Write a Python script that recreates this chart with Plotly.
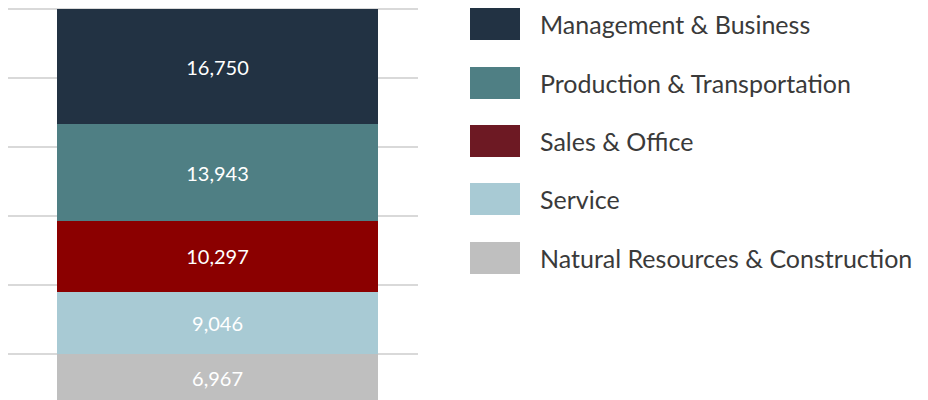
import plotly.graph_objects as go

categories = ["Natural Resources & Construction", "Service", "Sales & Office",
              "Production & Transportation", "Management & Business"]
values = [6967, 9046, 10297, 13943, 16750]
bar_colors = ["#bfbfbf", "#a8cad4", "#8b0000", "#4f7f84", "#223243"]
legend_colors = ["#bfbfbf", "#a8cad4", "#6d1923", "#4f7f84", "#223243"]
legend_order = ["Management & Business", "Production & Transportation",
                "Sales & Office", "Service", "Natural Resources & Construction"]

W, H = 928, 400
FONT = "Lato"
OFF = 8  # page body margin

fig = go.Figure()
for cat, val, col in zip(categories, values, bar_colors):
    fig.add_trace(go.Bar(
        x=["Total"], y=[val], name=cat, marker=dict(color=col, line=dict(width=0)),
        text=[f"{val:,}"], textposition="inside", insidetextanchor="middle",
        textfont=dict(family=FONT, size=20, color="#ffffff"),
        showlegend=False, hoverinfo="name+y",
    ))

# manual legend (large swatches)
shapes, annotations = [], []
row_top = [8, 67, 125, 183, 242]
for name, top in zip(legend_order, row_top):
    col = legend_colors[categories.index(name)]
    t = top - OFF
    shapes.append(dict(type="rect", xref="paper", yref="paper",
                       x0=(470 - OFF) / W, x1=(520 - OFF) / W,
                       y0=1 - (t + 32) / H, y1=1 - t / H,
                       fillcolor=col, line=dict(width=0)))
    annotations.append(dict(xref="paper", yref="paper", x=(538 - OFF) / W, y=1 - (t + 16) / H,
                            xanchor="left", yanchor="middle", showarrow=False, text=name,
                            font=dict(family=FONT, size=25, color="#3a3a3a")))

fig.update_layout(
    width=W, height=H, barmode="stack", bargap=0.217,
    margin=dict(l=0, r=0, t=0, b=0),
    paper_bgcolor="white", plot_bgcolor="white",
    shapes=shapes, annotations=annotations,
    xaxis=dict(domain=[0, 410 / W], range=[-0.511, 0.489], showticklabels=False,
               showgrid=False, zeroline=False, showline=False, ticks=""),
    yaxis=dict(range=[-868, 57150], tick0=7000, dtick=10000, showticklabels=False,
               showgrid=True, gridcolor="#d9d9d9", gridwidth=1.5, zeroline=False,
               showline=False, ticks=""),
)

fig.write_html("out.html")
